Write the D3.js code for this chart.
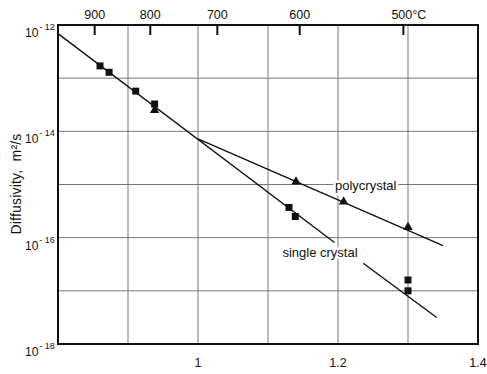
<!DOCTYPE html>
<html>
  <head>
    <meta charset="utf-8">
    <script src="https://d3js.org/d3.v7.min.js"></script>
    <style>
      body { margin: 0; background: #fff; }
      text { font-family: "Liberation Sans", Arial, sans-serif; fill: #111; }
      .grid line { stroke: #777; stroke-width: 1; }
    </style>
  </head>
<body>
  <script type="text/javascript">
    // 1000/T (K^-1) and diffusivity (m2/s)
    var singleX = [0.860, 0.873, 0.911, 0.938, 1.130, 1.139, 1.300, 1.300];
    var singleD = [1.7e-13, 1.29e-13, 5.7e-14, 3.27e-14, 3.7e-16, 2.5e-16, 1.6e-17, 1.0e-17];
    var polyX = [0.938, 1.140, 1.208, 1.300];
    var polyD = [2.5e-14, 1.13e-15, 4.75e-16, 1.57e-16];

    // fitted lines, drawn as segments (gap where the label sits)
    var singleLineX = [[0.800, 1.195], [1.236, 1.341]];
    var singleLineD = [[6.9e-13, 8.1e-17], [3.3e-17, 3.15e-18]];
    var polyLineX = [1.000, 1.350];
    var polyLineD = [7.2e-15, 7.1e-17];

    var tempTicks = [900, 800, 700, 600, 500];
    var tempLabels = ["900", "800", "700", "600", "500\u00B0C"];
    var xTicks = [1, 1.2, 1.4];
    var xGrid = [0.9, 1.0, 1.1, 1.2, 1.3];
    var yTickExp = [-12, -14, -16, -18];
    var yGridExp = [-17, -16, -15, -14, -13];

    var width = 487, height = 374;
    var margin = {left: 58, top: 25, right: 9, bottom: 30};

    var svg = d3.select("body").append("svg")
      .attr("width", width)
      .attr("height", height);

    var x = d3.scaleLinear().domain([0.8, 1.4]).range([margin.left, width - margin.right]);
    var y = d3.scaleLog().domain([1e-18, 1e-12]).range([height - margin.bottom, margin.top]);

    // grid
    var grid = svg.append("g").attr("class", "grid");
    grid.selectAll(".vg").data(xGrid).enter().append("line")
      .attr("x1", d => x(d)).attr("x2", d => x(d))
      .attr("y1", y(1e-12)).attr("y2", y(1e-18));
    grid.selectAll(".hg").data(yGridExp).enter().append("line")
      .attr("y1", d => y(Math.pow(10, d))).attr("y2", d => y(Math.pow(10, d)))
      .attr("x1", x(0.8)).attr("x2", x(1.4));

    // fitted lines
    var line = d3.line().x(d => x(d[0])).y(d => y(d[1]));
    singleLineX.forEach(function(seg, i) {
      svg.append("path")
        .attr("d", line([[seg[0], singleLineD[i][0]], [seg[1], singleLineD[i][1]]]))
        .attr("fill", "none").attr("stroke", "#111").attr("stroke-width", 1.4);
    });
    svg.append("path")
      .attr("d", line([[polyLineX[0], polyLineD[0]], [polyLineX[1], polyLineD[1]]]))
      .attr("fill", "none").attr("stroke", "#111").attr("stroke-width", 1.4);

    // points
    svg.selectAll(".sq").data(singleX).enter().append("rect")
      .attr("x", d => x(d) - 3.5)
      .attr("y", (d, i) => y(singleD[i]) - 3.5)
      .attr("width", 7).attr("height", 7)
      .attr("fill", "#111");
    var tri = d3.symbol().type(d3.symbolTriangle).size(38);
    svg.selectAll(".tri").data(polyX).enter().append("path")
      .attr("d", tri)
      .attr("transform", (d, i) => "translate(" + x(d) + "," + y(polyD[i]) + ")")
      .attr("fill", "#111");

    // labels with white backing
    function label(txt, xv, dv, anchor) {
      svg.append("text")
        .attr("x", x(xv)).attr("y", y(dv))
        .attr("text-anchor", anchor)
        .attr("dy", "0.35em")
        .attr("font-size", 13)
        .attr("stroke", "#fff").attr("stroke-width", 5)
        .attr("paint-order", "stroke")
        .text(txt);
    }
    label("polycrystal", 1.1957, 9.8e-16, "start");
    label("single crystal", 1.1743, 5.2e-17, "middle");

    // frame
    svg.append("rect")
      .attr("x", x(0.8)).attr("y", y(1e-12))
      .attr("width", x(1.4) - x(0.8)).attr("height", y(1e-18) - y(1e-12))
      .attr("fill", "none").attr("stroke", "#111").attr("stroke-width", 2);

    // top temperature axis
    var tAxis = svg.append("g");
    tAxis.selectAll("line").data(tempTicks).enter().append("line")
      .attr("x1", d => x(1000 / (d + 273.15))).attr("x2", d => x(1000 / (d + 273.15)))
      .attr("y1", y(1e-12)).attr("y2", y(1e-12) + 10)
      .attr("stroke", "#111").attr("stroke-width", 2);
    tAxis.selectAll("text").data(tempTicks).enter().append("text")
      .attr("x", d => x(1000 / (d + 273.15)))
      .attr("y", 19)
      .attr("text-anchor", (d, i) => i == 4 ? "start" : "middle")
      .attr("dx", (d, i) => i == 4 ? -12 : 0)
      .attr("font-size", 12.5)
      .text((d, i) => tempLabels[i]);

    // bottom labels
    svg.selectAll(".xl").data(xTicks).enter().append("text")
      .attr("x", d => x(d)).attr("y", 367)
      .attr("text-anchor", "middle")
      .attr("font-size", 12.5)
      .text(d => d);

    // left labels 10^n
    var yl = svg.selectAll(".yl").data(yTickExp).enter().append("text")
      .attr("x", 25).attr("y", d => y(Math.pow(10, d)) + 12)
      .attr("font-size", 12);
    yl.append("tspan").text("10");
    yl.append("tspan").attr("dy", -7).attr("dx", 1).attr("font-size", 9).text(d => "- " + (-d));

    // axis title
    svg.append("text")
      .attr("transform", "translate(21,184) rotate(-90)")
      .attr("text-anchor", "middle")
      .attr("font-size", 14)
      .style("white-space", "pre")
      .style("letter-spacing", "0.2px")
      .text("Diffusivity,  m\u00B2/s");
  </script>
</body>
</html>
